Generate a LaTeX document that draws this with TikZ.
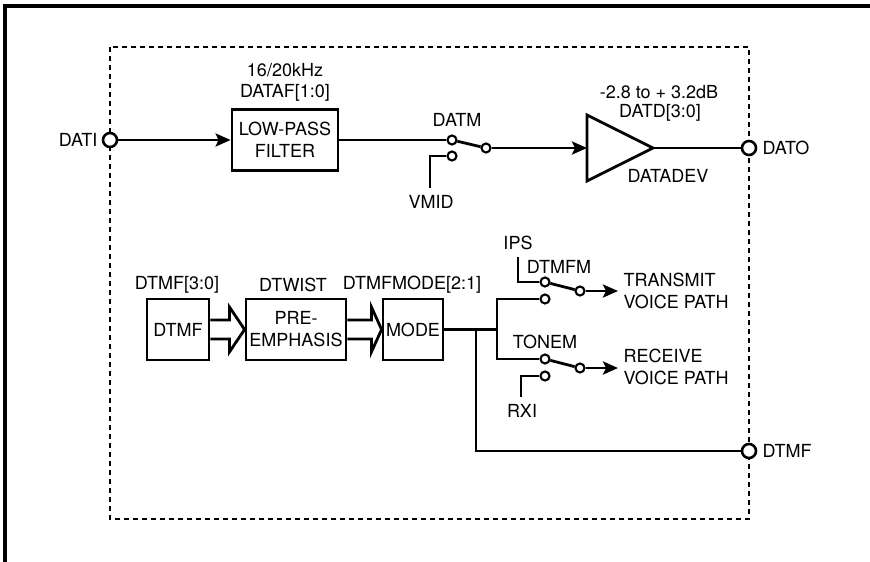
\documentclass[tikz,border=0pt]{standalone}
\usepackage{fontspec}
\setmainfont{TeX Gyre Heros}
\usetikzlibrary{calc,arrows.meta}
\def\widearrow(#1)(#2)(#3){\draw[wire] ($(#1.east)+(0,-9.5)$) -- ++(#3,0) -- ++(0,-13) -- (#2.west) -- ($(#1.east)+(#3,22.5)$) -- ++(0,-13) -- ($(#1.east)+(0,9.5)$);}

\begin{document}
\begin{tikzpicture}[x=1pt, y=-1pt,
		every node/.style={font=\fontsize{18}{22}\selectfont},
		wire/.style={line width=2.8pt},
		box/.style={draw, line width=2.8pt, minimum height=61pt, inner sep=1pt, align=center},
		term/.style={circle, draw, fill=white, line width=2.6pt, minimum size=14pt, inner sep=0pt},
		contact/.style={circle, draw, fill=white, line width=2.1pt, minimum size=9pt, inner sep=0pt},
		arr/.style={wire, -{Stealth[length=15pt, width=13pt, inset=3pt]}}]
			%%%%% START %%%%%
			
			\useasboundingbox (0, 0) rectangle (870, 562);
			\draw[line width=3.2pt] (5, 562) -- (5, 6) -- (870, 6);
			\draw[line width=2.8pt, dash pattern=on 5pt off 4pt] (110, 47) rectangle (749, 519);
			
			\node[term] (dati) at (110, 140) {};
			\node[anchor=east] (datilbl) at (101, 140) {DATI};
			
			\node[box, minimum width=106pt] (lpf) at (285, 140) {LOW-PASS\\FILTER};
			\node (lpfhz) at (285, 70) {16/20kHz};
			\node (lpfreg) at (285, 93) {DATAF[1:0]};
			\draw[arr] (dati) -- (lpf);
			
			\node[contact] (datma) at (452, 140) {};
			\node[contact] (datmb) at (452, 156) {};
			\node[contact] (datmo) at (486, 148) {};
			\node (datmlbl) at (457, 120) {DATM};
			\coordinate (vmid) at (430, 188);
			\node (vmidlbl) at (431, 202) {VMID};
			\draw[wire] (lpf) -- (datma);
			\draw[wire] (datma) -- (datmo);
			\draw[wire] (datmb) -| (vmid);
			
			\coordinate (ampin) at (587, 148);
			\coordinate (ampout) at (653, 148);
			\draw[wire] (ampin) -- ++(0, -33) -- (ampout) -- ($(ampin)+(0, 33)$) -- cycle;
			\draw[arr] (datmo) -- (ampin);
			\node (ampgain) at (659, 92) {-2.8 to + 3.2dB};
			\node (ampreg) at (660, 113) {DATD[3:0]};
			\node (amplbl) at (668, 176) {DATADEV};
			
			\node[term] (dato) at (749, 148) {};
			\node[anchor=west] (datolbl) at (759, 148) {DATO};
			\draw[wire] (ampout) -- (dato);
			
			\node (dtmfreg) at (177, 285) {DTMF[3:0]};
			\node (twistreg) at (293, 285) {DTWIST};
			\node (modereg) at (412, 285) {DTMFMODE[2:1]};
			
			\node[box, minimum width=62pt] (dtmf) at (178, 329.5) {DTMF};
			\node[box, minimum width=100pt] (pre) at (296, 329.5) {PRE-\\EMPHASIS};
			\node[box, minimum width=60pt] (mode) at (413, 329.5) {MODE};
			\widearrow(dtmf)(pre)(19)
			\widearrow(pre)(mode)(24)
			
			\coordinate (jl) at (476, 329.5);
			\coordinate (jr) at (497, 329.5);
			\draw[wire] (mode) -- (jr);
			
			\node[contact] (ipsa) at (545, 282) {};
			\node[contact] (ipsb) at (545, 299) {};
			\node[contact] (ipso) at (580, 291) {};
			\coordinate (ips) at (518, 257);
			\node (ipslbl) at (518, 243) {IPS};
			\node (dtmfmlbl) at (559, 267) {DTMFM};
			\draw[wire] (ipsa) -- (ipso);
			\draw[wire] (ipsa) -| (ips);
			\coordinate (txend) at (618, 291);
			\draw[arr] (ipso) -- (txend);
			\node[anchor=west, align=left] (txlbl) at (620, 291) {TRANSMIT\\VOICE PATH};
			
			\node[contact] (tonea) at (545, 359) {};
			\node[contact] (toneb) at (545, 376) {};
			\node[contact] (toneo) at (580, 368) {};
			\coordinate (rxi) at (521, 397);
			\node (tonemlbl) at (545, 342) {TONEM};
			\node (rxilbl) at (522, 411) {RXI};
			\draw[wire] (tonea) -- (toneo);
			\draw[wire] (toneb) -| (rxi);
			\coordinate (rxend) at (618, 368);
			\draw[arr] (toneo) -- (rxend);
			\node[anchor=west, align=left] (rxlbl) at (620, 367) {RECEIVE\\VOICE PATH};
			
			\draw[wire] (ipsb) -| (jr) |- (tonea);
			
			\node[term] (dtmfo) at (749, 451) {};
			\node[anchor=west] (dtmfolbl) at (759, 451) {DTMF};
			\draw[wire] (jl) |- (dtmfo);
			
			%%%%% END %%%%%
		\end{tikzpicture}
\end{document}
